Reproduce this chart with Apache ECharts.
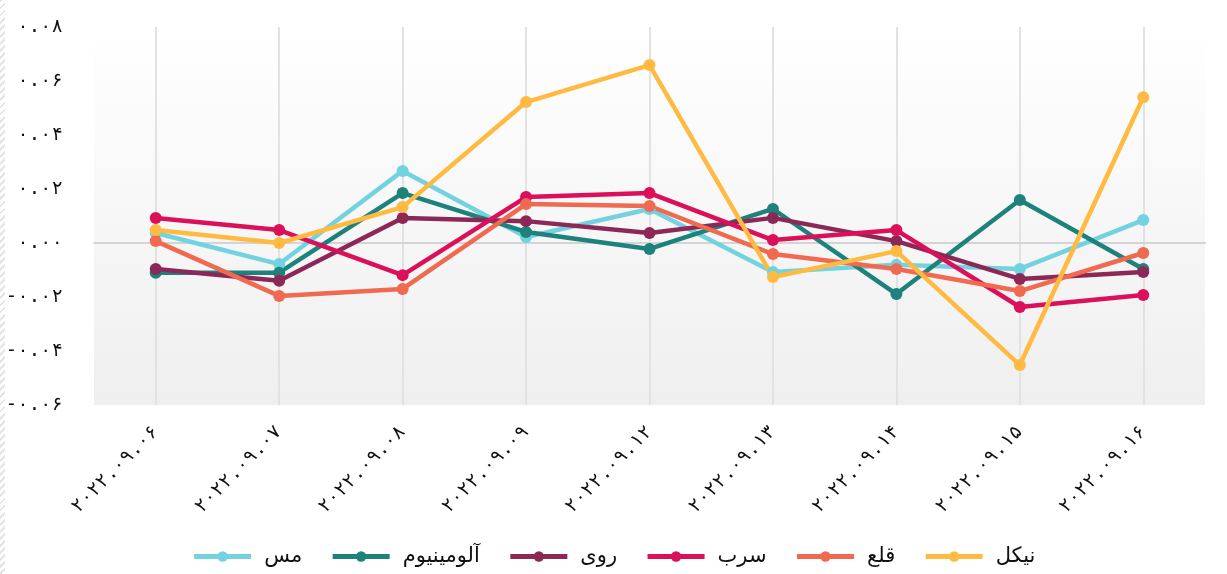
<!DOCTYPE html>
<html>
<head>
<meta charset="utf-8">
<script src="https://cdn.jsdelivr.net/npm/echarts@6/dist/echarts.min.js"></script>
<style>
  html, body { margin: 0; padding: 0; background: #fff; }
  #chart { width: 1227px; height: 574px; }
  .stripe {
    position: absolute; left: 0; top: 0; width: 5px; height: 574px;
    background: repeating-linear-gradient(135deg, #e4e4e4 0 2px, #fff 2px 5px);
  }
</style>
</head>
<body>
<div class="stripe"></div>
<div id="chart"></div>
<script>
  // تاریخ ها
  var dates = ['2022.09.06', '2022.09.07', '2022.09.08', '2022.09.09', '2022.09.12',
               '2022.09.13', '2022.09.14', '2022.09.15', '2022.09.16'];
  var seriesNames = ['مس', 'آلومینیوم', 'روی', 'سرب', 'قلع', 'نیکل'];
  var colors = ['#73d2e0', '#1d827b', '#8b2856', '#db0f5a', '#ef6a50', '#ffba42'];

  var mes       = [0.0037, -0.0078, 0.0267, 0.0022, 0.0126, -0.0107, -0.0081, -0.0096, 0.0085];
  var aluminium = [-0.0110, -0.0110, 0.0185, 0.0041, -0.0022, 0.0126, -0.0189, 0.0159, -0.0096];
  var ruy       = [-0.0096, -0.0140, 0.0093, 0.0081, 0.0037, 0.0093, 0.0007, -0.0133, -0.0107];
  var sorb      = [0.0093, 0.0048, -0.0119, 0.0170, 0.0185, 0.0011, 0.0048, -0.0237, -0.0193];
  var ghal      = [0.0007, -0.0196, -0.0170, 0.0144, 0.0137, -0.0041, -0.0096, -0.0178, -0.0037];
  var nikel     = [0.0048, 0.0000, 0.0133, 0.0522, 0.0659, -0.0126, -0.0030, -0.0452, 0.0540];
  var values = [mes, aluminium, ruy, sorb, ghal, nikel];

  function fa(s) {
    return String(s).replace(/[0-9]/g, function (d) { return '۰۱۲۳۴۵۶۷۸۹'[d]; });
  }

  var font = 'DejaVu Sans';
  var numFont = 'DejaVu Sans Mono';
  var chart = echarts.init(document.getElementById('chart'));

  var series = seriesNames.map(function (name, i) {
    return {
      name: name,
      type: 'line',
      data: values[i],
      symbol: 'circle',
      symbolSize: 12,
      lineStyle: { width: 4.5, color: colors[i] },
      itemStyle: { color: colors[i] }
    };
  });

  chart.setOption({
    animation: false,
    color: colors,
    grid: {
      left: 94, right: 22, top: 27, bottom: 169,
      show: true, borderWidth: 0,
      backgroundColor: new echarts.graphic.LinearGradient(0, 0, 0, 1, [
        { offset: 0, color: '#ffffff' },
        { offset: 1, color: '#efefef' }
      ])
    },
    legend: {
      data: seriesNames,
      bottom: 2,
      left: 'center',
      itemWidth: 57,
      itemHeight: 13,
      itemGap: 28,
      lineStyle: { width: 5 },
      textStyle: { fontFamily: font, fontSize: 21, color: '#111', padding: [0, 0, 0, 8] }
    },
    xAxis: {
      type: 'category',
      data: dates,
      axisLine: { lineStyle: { color: '#d4d4d4', width: 2 } },
      axisTick: { show: false, alignWithLabel: true },
      splitLine: { show: true, alignWithLabel: true, lineStyle: { color: '#e2e2e2', width: 2 } },
      axisLabel: {
        rotate: 45, margin: 24, interval: 0,
        fontFamily: numFont, fontSize: 19, color: '#111',
        formatter: function (v) { return fa(v); }
      }
    },
    yAxis: {
      type: 'value',
      min: -0.06, max: 0.08, interval: 0.02,
      axisLine: { show: false },
      axisTick: { show: false },
      splitLine: { show: false },
      axisLabel: {
        margin: 31, fontFamily: numFont, fontSize: 19, color: '#111',
        formatter: function (v) { return (v < 0 ? '-' : '') + fa(Math.abs(v).toFixed(2)); }
      }
    },
    series: series
  });
</script>
</body>
</html>
